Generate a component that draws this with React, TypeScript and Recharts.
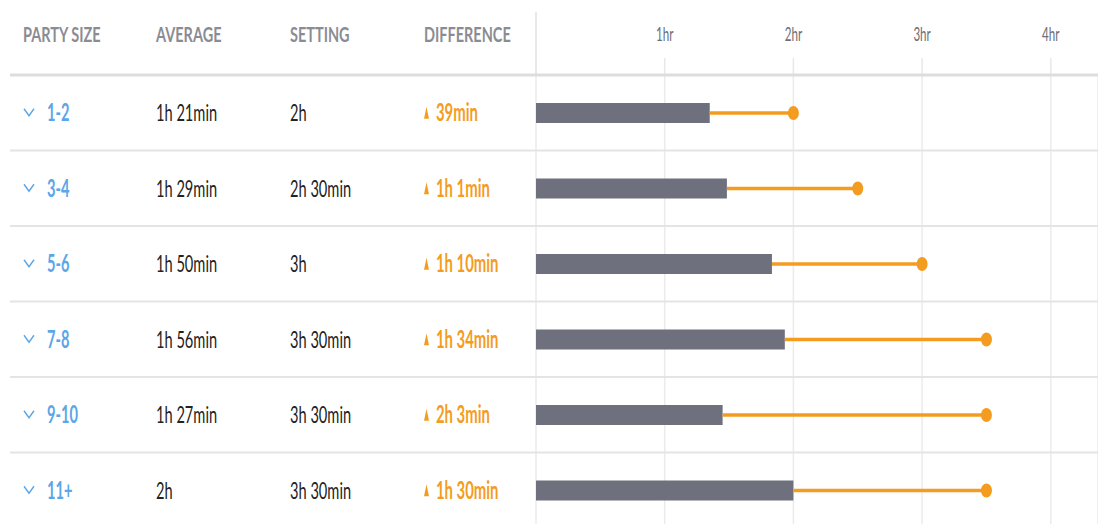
import React from 'react';
import { ComposedChart, Bar, XAxis, YAxis, CartesianGrid } from 'recharts';

const partySizes = ['1-2', '3-4', '5-6', '7-8', '9-10', '11+'];
const averageMinutes = [81, 89, 110, 116, 87, 120];
const settingMinutes = [120, 150, 180, 210, 210, 210];
const averageLabels = ['1h 21min', '1h 29min', '1h 50min', '1h 56min', '1h 27min', '2h'];
const settingLabels = ['2h', '2h 30min', '3h', '3h 30min', '3h 30min', '3h 30min'];
const differenceLabels = ['39min', '1h 1min', '1h 10min', '1h 34min', '2h 3min', '1h 30min'];
const headerLabels = ['PARTY SIZE', 'AVERAGE', 'SETTING', 'DIFFERENCE'];
const hourTicks = [0, 60, 120, 180, 240];
const hourTickLabels = ['', '1hr', '2hr', '3hr', '4hr'];

const data = partySizes.map((size, i) => ({
  size,
  avg: averageMinutes[i],
  gap: settingMinutes[i] - averageMinutes[i],
}));

const W = 1098;
const H = 528;
const ROW_H = 75.5;
const HEADER_Y = 34;
const COL_X = [23, 156, 290, 424];
const FONT = 'Lato, "Open Sans", sans-serif';

const GREY_BAR = '#6e717d';
const ORANGE = '#f39c1f';
const BLUE = '#5aa6e8';
const HEAD = '#8b8c93';
const TEXT = '#222';
const LINE = '#e4e4e4';

function CText({ x, y, size, weight = 400, fill, anchor = 'start', sx = 0.61, children }: any) {
  return (
    <text
      transform={`translate(${x},${y}) scale(${sx},1)`}
      fontFamily={FONT}
      fontSize={size}
      fontWeight={weight}
      fill={fill}
      textAnchor={anchor}
      dy="0.36em"
    >
      {children}
    </text>
  );
}

function RowTick(props: any) {
  const { y, payload, index } = props;
  const i = payload?.index ?? index;
  const top = y - ROW_H / 2;
  const bottom = y + ROW_H / 2;
  return (
    <g>
      {i === 0 && (
        <g>
          <line x1={10} x2={W} y1={top} y2={top} stroke="#dddddd" strokeWidth={3} />
          {headerLabels.map((h, k) => (
            <CText key={h} x={COL_X[k]} y={HEADER_Y} size={21} weight={700} fill={HEAD} sx={0.69}>
              {h}
            </CText>
          ))}
        </g>
      )}
      <line x1={10} x2={W} y1={bottom} y2={bottom} stroke={LINE} strokeWidth={2} />
      <path
        d={`M${COL_X[0] + 1},${y - 4} L${COL_X[0] + 6},${y + 3} L${COL_X[0] + 11},${y - 4}`}
        fill="none"
        stroke={BLUE}
        strokeWidth={1.4}
      />
      <CText x={47} y={y} size={24} weight={700} fill={BLUE}>
        {partySizes[i]}
      </CText>
      <CText x={COL_X[1]} y={y} size={24} weight={400} fill={TEXT}>
        {averageLabels[i]}
      </CText>
      <CText x={COL_X[2]} y={y} size={24} weight={400} fill={TEXT}>
        {settingLabels[i]}
      </CText>
      <path
        d={`M${COL_X[3]},${y + 6} L${COL_X[3] + 2.5},${y - 6} L${COL_X[3] + 5},${y + 6} Z`}
        fill={ORANGE}
      />
      <CText x={COL_X[3] + 12} y={y} size={24} weight={700} fill={ORANGE} sx={0.62}>
        {differenceLabels[i]}
      </CText>
    </g>
  );
}

function HourTick(props: any) {
  const { x, payload, index } = props;
  const i = hourTicks.indexOf(payload?.value);
  const k = i >= 0 ? i : index;
  return (
    <g>
      <line x1={x} x2={x} y1={k === 0 ? 12 : 58} y2={76} stroke="#e8e8e8" strokeWidth={k === 0 ? 2 : 1.5} />
      {k > 0 && (
        <CText x={x} y={HEADER_Y} size={20} weight={400} fill="#6d6e75" anchor="middle" sx={0.58}>
          {hourTickLabels[k]}
        </CText>
      )}
    </g>
  );
}

function GapShape(props: any) {
  const { x, y, width, height } = props;
  const cy = y + height / 2;
  return (
    <g>
      <line x1={x} x2={x + width} y1={cy} y2={cy} stroke={ORANGE} strokeWidth={3.5} />
      <ellipse cx={x + width} cy={cy} rx={5.5} ry={7} fill={ORANGE} />
    </g>
  );
}

export default function App() {
  return (
    <div
      style={{
        position: 'absolute',
        left: 0,
        top: 0,
        width: W,
        height: 524,
        overflow: 'hidden',
        background: '#fff',
      }}
    >
      <ComposedChart
        width={W}
        height={H}
        data={data}
        layout="vertical"
        margin={{ top: 0, right: 0, bottom: 0, left: 0 }}
        barCategoryGap={0}
      >
        <CartesianGrid horizontal={false} vertical={true} stroke="#ebebeb" strokeWidth={1.5} />
        <XAxis
          type="number"
          orientation="top"
          domain={[0, 262]}
          ticks={hourTicks}
          height={75}
          axisLine={false}
          tickLine={false}
          tick={<HourTick />}
          interval={0}
          allowDataOverflow
        />
        <YAxis
          type="category"
          dataKey="size"
          width={536}
          axisLine={false}
          tickLine={false}
          tick={<RowTick />}
          interval={0}
        />
        <Bar dataKey="avg" stackId="a" fill={GREY_BAR} barSize={20} isAnimationActive={false} />
        <Bar dataKey="gap" stackId="a" barSize={20} shape={<GapShape />} isAnimationActive={false} />
      </ComposedChart>
    </div>
  );
}
